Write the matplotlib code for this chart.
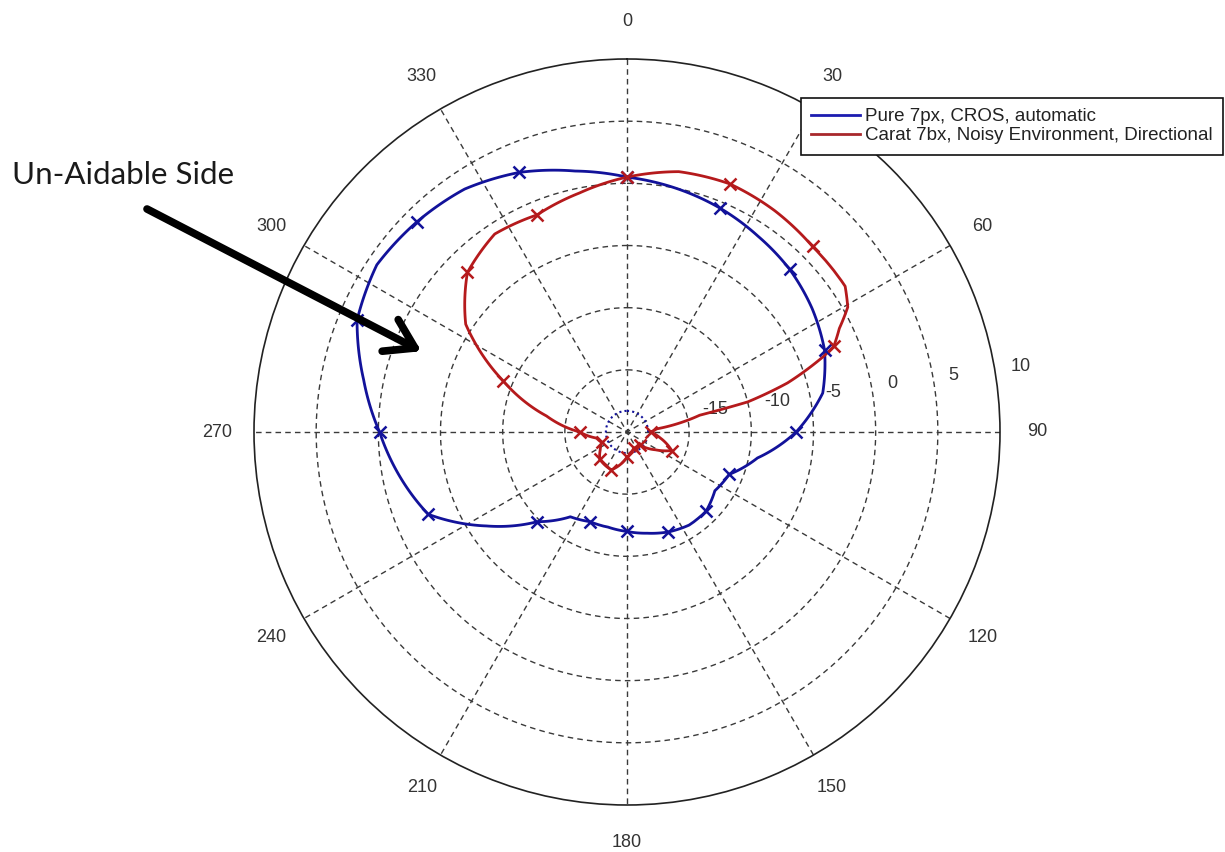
import numpy as np
import matplotlib.pyplot as plt
from matplotlib.lines import Line2D

# Polar response, dB vs azimuth (degrees, clockwise from front)
blue_deg = [0, 11.25, 22.5, 33.75, 45, 56.25, 67.5, 78.75, 90, 101.25, 112.5,
            123.75, 135, 146.25, 157.5, 168.75, 180, 191.25, 202.5, 213.75, 225,
            236.25, 247.5, 258.75, 270, 281.25, 292.5, 303.75, 315, 326.25,
            337.5, 348.75, 360]
blue_db = [0.5, 0.0, -0.5, -1.05, -1.5, -2.1, -2.8, -3.95, -6.4, -9.3, -11.1,
           -11.5, -11.0, -11.0, -11.3, -11.7, -12.0, -12.2, -12.2, -11.8, -9.8,
           -6.4, -2.7, -1.4, -0.1, 1.6, 3.5, 4.2, 3.9, 3.5,
           2.6, 1.4, 0.5]

red_deg = [0, 11.25, 22.5, 33.75, 45, 56.25, 60.5, 64, 67.5, 69, 73, 76, 77,
           84, 90, 100, 112.5, 122, 135, 157.5, 180, 202.5, 225, 236, 247.5,
           258.75, 270, 281.25, 292.5, 303.75, 315, 326.25, 337.5, 348.75, 360]
red_db = [0.5, 1.35, 1.6, 1.4, 1.1, 1.1, 0.4, -1.0, -2.0, -3.1, -6.5, -10.0, -14.0,
          -17.6, -18.1, -17.3, -16.1, -17.3, -18.5, -18.6, -18.0, -16.7, -16.9, -17.4, -17.8,
          -17.5, -16.2, -13.4, -9.2, -4.4, -1.85, -0.85, -1.1, -0.4, 0.5]

floor_db = -18.3

series = ['Pure 7px, CROS, automatic', 'Carat 7bx, Noisy Environment, Directional']
line_colors = ['#12129a', '#b51a1c']
legend_colors = ['#1c1cb0', '#a8282c']

r_min, r_max = -20, 10
ring_vals = [-15, -10, -5, 0, 5]
ring_labels = ['-15', '-10', '-5', '0', '5', '10']
spoke_deg = [0, 30, 60, 90, 120, 150, 180, 210, 240, 270, 300, 330]

plt.rcParams['font.family'] = ['Liberation Sans', 'DejaVu Sans']

W, H = 1225, 852
fig = plt.figure(figsize=(W / 100, H / 100), dpi=100)
cx, cy, R = 627, 432, 373
ax = fig.add_axes([(cx - R) / W, (H - cy - R) / H, 2 * R / W, 2 * R / H],
                  projection='polar')
ax.set_theta_zero_location('N')
ax.set_theta_direction(-1)
ax.set_rlim(r_min, r_max)
ax.set_xticks([])
ax.set_yticks([])
ax.grid(False)
ax.spines['polar'].set_linewidth(1.2)
ax.spines['polar'].set_color('#222222')

grid_kw = dict(color='#3a3a3a', lw=1.0, ls=(0, (4, 3)), zorder=1)
full = np.linspace(0, 2 * np.pi, 400)
for v in ring_vals:
    ax.plot(full, np.full_like(full, v), **grid_kw)
for d in spoke_deg[:6]:
    t = np.deg2rad(d)
    ax.plot([t, t, t + np.pi], [r_max, r_min, r_max], **grid_kw)

# angle labels just outside the outer circle
for d in spoke_deg:
    ax.text(np.deg2rad(d), r_min + 1.1 * (r_max - r_min), str(d),
            ha='center', va='center', fontsize=13, color='#333333')

# ring labels along the 82 degree ray
for v, lab in zip(ring_vals + [r_max], ring_labels):
    ax.annotate(lab, (np.deg2rad(82), v), xytext=(14, 5),
                textcoords='offset pixels', ha='left', va='bottom',
                fontsize=13, color='#333333', annotation_clip=False)

# small noise-floor trace around the origin
ax.plot(full, np.full_like(full, floor_db), ls=(0, (1, 1.5)),
        color=line_colors[0], lw=1.5, zorder=3)

for deg, db, c in [(blue_deg, blue_db, line_colors[0]), (red_deg, red_db, line_colors[1])]:
    th = np.deg2rad(deg)
    marks = [i for i, d in enumerate(deg[:-1]) if d % 22.5 == 0]
    ln, = ax.plot(th, db, color=c, lw=2, zorder=4)
    # follow the polar grid between samples instead of straight chords
    ln.get_path()._interpolation_steps = 24
    ax.plot(th[marks], np.array(db)[marks], ls='none', marker='x', ms=9,
            mew=1.8, color=c, zorder=5)

handles = [Line2D([], [], color=c, lw=2) for c in legend_colors]
leg = fig.legend(handles, series, loc='upper left',
                 bbox_to_anchor=(801 / W, 1 - 98 / H), borderaxespad=0,
                 fontsize=13.5, handlelength=2.6, handletextpad=0.27,
                 borderpad=0.55, labelspacing=0.1, fancybox=False,
                 framealpha=1, edgecolor='#111111')
leg.get_frame().set_linewidth(1.2)
for t in leg.get_texts():
    t.set_color('#222222')

# annotation pointing at the unaided side
fig.text(12 / W, 1 - 175 / H, 'Un-Aidable Side', fontsize=22.5, family='Lato',
         color='#1a1a1a', ha='left', va='center')
tail = np.array([147.0, 209.0])
tip = np.array([415.0, 348.0])
back = (tail - tip) / np.linalg.norm(tail - tip)
def rot(v, a):
    a = np.deg2rad(a)
    return np.array([v[0] * np.cos(a) - v[1] * np.sin(a), v[0] * np.sin(a) + v[1] * np.cos(a)])
segs = [(tail, tip), (tip, tip + 33 * rot(back, 32)), (tip, tip + 33 * rot(back, -33))]
for a, b in segs:
    fig.add_artist(Line2D([a[0] / W, b[0] / W], [1 - a[1] / H, 1 - b[1] / H],
                          transform=fig.transFigure, color='black', lw=5.5,
                          solid_capstyle='round', solid_joinstyle='round'))

fig.savefig('out.png', dpi=100)
